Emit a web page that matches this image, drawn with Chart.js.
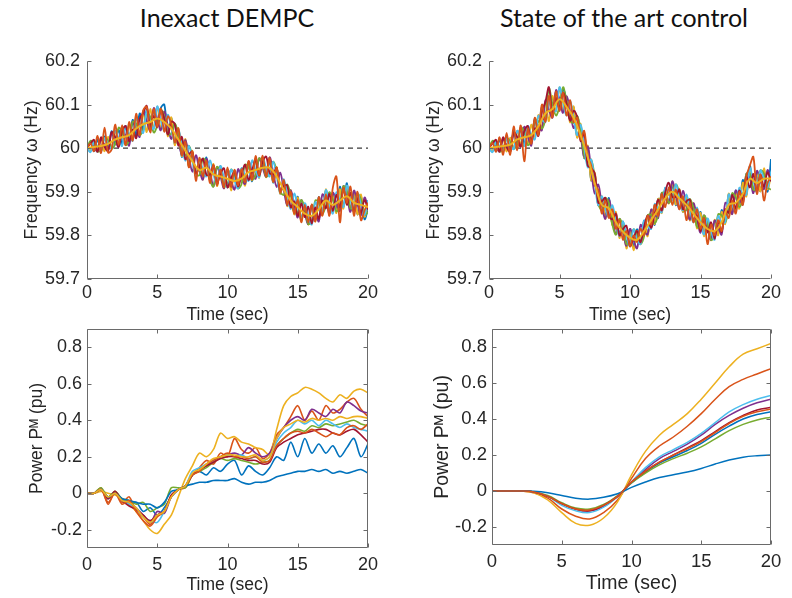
<!DOCTYPE html>
<html>
<head>
<meta charset="utf-8">
<script src="https://cdn.jsdelivr.net/npm/chart.js@4.4.0/dist/chart.umd.min.js"></script>
<style>
  html, body { margin: 0; padding: 0; background: #fff; }
  #page { position: relative; width: 792px; height: 598px; overflow: hidden; }
  canvas { position: absolute; }
  .title {
    position: absolute; top: 2px; line-height: 30px;
    font-family: Lato, "Open Sans", sans-serif; font-size: 25px; color: #111;
    white-space: nowrap; transform: translateX(-50%);
  }
</style>
</head>
<body>
<div id="page">
  <div class="title" style="left:227px">Inexact DEMPC</div>
  <div class="title" style="left:624px">State of the art control</div>
  <canvas id="freqDempc" width="396" height="286" style="left:0;top:40px"></canvas>
  <canvas id="freqSota" width="392" height="286" style="left:400px;top:40px"></canvas>
  <canvas id="powerDempc" width="396" height="280" style="left:0;top:318px"></canvas>
  <canvas id="powerSota" width="392" height="280" style="left:400px;top:318px"></canvas>
</div>
<script>
// ---- Time bases ----
const timeQuarter = [0,0.25,0.5,0.75,1,1.25,1.5,1.75,2,2.25,2.5,2.75,3,3.25,3.5,3.75,4,4.25,4.5,4.75,
  5,5.25,5.5,5.75,6,6.25,6.5,6.75,7,7.25,7.5,7.75,8,8.25,8.5,8.75,9,9.25,9.5,9.75,
  10,10.25,10.5,10.75,11,11.25,11.5,11.75,12,12.25,12.5,12.75,13,13.25,13.5,13.75,14,14.25,14.5,14.75,
  15,15.25,15.5,15.75,16,16.25,16.5,16.75,17,17.25,17.5,17.75,18,18.25,18.5,18.75,19,19.25,19.5,19.75,20];
const timeHalf = [0,0.5,1,1.5,2,2.5,3,3.5,4,4.5,5,5.5,6,6.5,7,7.5,8,8.5,9,9.5,
  10,10.5,11,11.5,12,12.5,13,13.5,14,14.5,15,15.5,16,16.5,17,17.5,18,18.5,19,19.5,20];
const timeWhole = [0,1,2,3,4,5,6,7,8,9,10,11,12,13,14,15,16,17,18,19,20];

// ---- Ticks ----
const timeTicks = [0, 5, 10, 15, 20];
const freqTicks = [59.7, 59.8, 59.9, 60, 60.1, 60.2];
const freqTickLabels = ['59.7', '59.8', '59.9', '60', '60.1', '60.2'];
const powerTicks = [-0.2, 0, 0.2, 0.4, 0.6, 0.8];
const powerTickLabels = ['-0.2', '0', '0.2', '0.4', '0.6', '0.8'];
const nominalFreq = 60;

// ---- Inexact DEMPC: frequency (Hz), every 0.25 s ----
const dempcFreq1 = [60.000,60.013,59.993,60.020,59.993,60.027,60.002,60.039,60.008,60.043,
  60.009,60.051,60.018,60.065,60.029,60.080,60.043,60.089,60.044,60.088,
  60.058,60.092,60.100,60.033,60.069,60.009,60.040,59.980,60.019,59.958,
  59.990,59.936,59.966,59.932,59.979,59.928,59.960,59.921,59.959,59.912,
  59.946,59.911,59.949,59.912,59.954,59.918,59.965,59.924,59.974,59.933,
  59.979,59.935,59.971,59.921,59.955,59.896,59.925,59.869,59.900,59.852,
  59.889,59.837,59.866,59.826,59.869,59.836,59.888,59.850,59.904,59.855,
  59.898,59.859,59.912,59.865,59.920,59.858,59.895,59.848,59.890,59.837,59.860];
const dempcFreq2 = [60.000,59.995,60.017,59.996,60.021,59.993,60.026,60.001,60.040,60.007,
  60.047,60.009,60.054,60.023,60.071,60.030,60.081,60.037,60.090,60.044,
  60.096,60.045,60.084,60.027,60.071,60.007,60.046,59.982,60.021,59.958,
  59.994,59.936,59.970,59.928,59.975,59.926,59.964,59.913,59.957,59.908,
  59.950,59.903,59.945,59.908,59.950,59.914,59.969,59.926,59.974,59.931,
  59.975,59.933,59.979,59.923,59.957,59.896,59.927,59.867,59.904,59.848,
  59.887,59.833,59.872,59.824,59.871,59.832,59.884,59.846,59.906,59.851,
  59.896,59.851,59.906,59.861,59.914,59.858,59.901,59.848,59.894,59.843,59.871];
const dempcFreq3 = [60.000,60.013,60.003,59.992,60.021,60.007,59.994,60.035,60.020,60.003,
  60.049,60.027,60.006,60.061,60.045,60.026,60.085,60.063,60.040,60.092,
  60.068,60.041,60.084,60.053,60.021,60.057,60.020,59.984,60.019,59.982,
  59.946,59.984,59.950,59.928,59.975,59.948,59.912,59.957,59.935,59.908,
  59.950,59.927,59.905,59.952,59.930,59.918,59.969,59.948,59.930,59.977,
  59.955,59.935,59.979,59.945,59.911,59.944,59.905,59.869,59.904,59.872,
  59.841,59.881,59.850,59.826,59.869,59.852,59.832,59.894,59.880,59.851,
  59.898,59.875,59.856,59.913,59.890,59.854,59.903,59.872,59.846,59.887,59.865];
const dempcFreq4 = [60.000,60.017,60.011,59.992,59.997,60.023,60.018,59.999,60.010,60.047,
  60.037,60.007,60.018,60.061,60.057,60.030,60.043,60.081,60.072,60.036,
  60.052,60.089,60.072,60.033,60.033,60.057,60.032,59.988,59.983,60.006,
  59.982,59.940,59.938,59.976,59.967,59.928,59.912,59.957,59.947,59.912,
  59.918,59.951,59.937,59.908,59.918,59.962,59.957,59.928,59.938,59.977,
  59.967,59.935,59.943,59.969,59.947,59.900,59.893,59.917,59.892,59.852,
  59.853,59.881,59.862,59.826,59.833,59.880,59.876,59.850,59.868,59.899,
  59.882,59.855,59.868,59.913,59.902,59.862,59.863,59.896,59.882,59.847,59.853];
const dempcFreq5 = [60.000,59.991,60.015,60.004,59.993,60.023,60.010,59.999,60.040,60.023,
  60.005,60.051,60.030,60.017,60.069,60.050,60.035,60.085,60.060,60.044,
  60.096,60.065,60.040,60.077,60.045,60.013,60.044,60.008,59.971,60.006,
  59.970,59.936,59.970,59.952,59.935,59.972,59.940,59.917,59.959,59.932,
  59.910,59.951,59.925,59.908,59.954,59.938,59.925,59.972,59.950,59.933,
  59.979,59.955,59.935,59.969,59.935,59.900,59.929,59.893,59.860,59.896,
  59.865,59.837,59.874,59.846,59.825,59.876,59.860,59.850,59.904,59.875,
  59.850,59.899,59.880,59.865,59.914,59.882,59.855,59.896,59.870,59.847,59.881];
const dempcFreq6 = [60.000,60.011,60.019,59.992,60.025,60.003,59.994,60.037,60.026,60.003,
  60.039,60.051,60.016,60.043,60.023,60.068,60.081,60.097,60.050,60.074,
  60.048,60.087,60.068,60.031,60.061,60.055,60.006,60.026,59.975,59.986,
  59.992,59.942,59.958,59.976,59.939,59.940,59.960,59.919,59.941,59.954,
  59.910,59.931,59.945,59.912,59.940,59.962,59.927,59.950,59.972,59.937,
  59.969,59.981,59.943,59.941,59.955,59.902,59.913,59.915,59.864,59.878,
  59.845,59.873,59.842,59.866,59.827,59.864,59.838,59.880,59.862,59.895,
  59.856,59.893,59.864,59.907,59.870,59.898,59.853,59.886,59.852,59.881,59.859];
const dempcFreq7 = [60.000,60.011,59.993,60.028,59.989,60.047,59.990,59.997,60.054,60.007,
  60.053,60.007,60.060,60.017,60.079,60.030,60.087,60.095,60.036,60.090,
  60.048,60.091,60.038,60.073,60.055,60.013,60.046,59.984,60.015,59.956,
  59.992,59.925,59.978,59.936,59.971,59.920,59.962,59.915,59.951,59.910,
  59.956,59.911,59.951,59.914,59.952,59.922,59.971,59.928,59.982,59.937,
  59.983,59.935,59.977,59.923,59.955,59.898,59.927,59.871,59.900,59.850,
  59.881,59.830,59.870,59.830,59.871,59.832,59.888,59.845,59.894,59.845,
  59.910,59.935,59.830,59.909,59.874,59.912,59.845,59.900,59.835,59.857,59.875];
// smooth (yellow) trace, every 0.5 s
const dempcFreqMean = [60.000,60.003,60.005,60.010,60.020,60.025,60.030,60.045,60.055,60.060,
  60.068,60.060,60.045,60.020,59.995,59.970,59.950,59.955,59.940,59.935,
  59.930,59.925,59.930,59.945,59.950,59.955,59.955,59.935,59.905,59.880,
  59.865,59.850,59.845,59.860,59.880,59.870,59.880,59.890,59.875,59.870,59.865];

// ---- State of the art: frequency (Hz), every 0.25 s ----
const sotaFreq1 = [60.000,60.013,59.993,60.020,59.993,60.026,60.000,60.038,60.008,60.044,
  60.009,60.051,60.018,60.068,60.034,60.095,60.068,60.114,60.074,60.129,
  60.102,60.135,60.110,60.065,60.094,60.026,60.050,59.977,60.004,59.926,
  59.940,59.869,59.886,59.842,59.886,59.825,59.850,59.802,59.832,59.780,
  59.811,59.774,59.814,59.784,59.834,59.802,59.855,59.824,59.884,59.853,
  59.909,59.875,59.916,59.869,59.905,59.854,59.890,59.836,59.870,59.820,
  59.854,59.802,59.831,59.790,59.834,59.804,59.858,59.830,59.894,59.853,
  59.903,59.869,59.927,59.893,59.960,59.901,59.940,59.901,59.950,59.900,59.975];
const sotaFreq2 = [60.000,59.995,60.017,59.996,60.021,59.992,60.024,60.000,60.040,60.008,
  60.047,60.009,60.054,60.026,60.076,60.045,60.106,60.062,60.120,60.085,
  60.140,60.085,60.119,60.059,60.096,60.024,60.056,59.979,60.006,59.926,
  59.944,59.869,59.890,59.838,59.882,59.823,59.854,59.794,59.830,59.770,
  59.815,59.766,59.810,59.780,59.830,59.798,59.859,59.826,59.884,59.851,
  59.905,59.873,59.924,59.871,59.907,59.854,59.892,59.834,59.874,59.816,
  59.852,59.798,59.837,59.788,59.836,59.800,59.854,59.826,59.896,59.849,
  59.901,59.861,59.921,59.889,59.954,59.901,59.946,59.901,59.954,59.906,59.936];
const sotaFreq3 = [60.000,60.013,60.003,59.992,60.021,60.006,59.992,60.034,60.020,60.004,
  60.049,60.027,60.006,60.064,60.050,60.041,60.110,60.088,60.070,60.133,
  60.112,60.081,60.119,60.085,60.046,60.074,60.030,59.981,60.004,59.950,
  59.896,59.917,59.870,59.838,59.882,59.845,59.802,59.838,59.808,59.776,
  59.815,59.790,59.770,59.824,59.810,59.802,59.859,59.848,59.840,59.897,
  59.885,59.875,59.924,59.893,59.861,59.902,59.870,59.836,59.874,59.840,
  59.806,59.846,59.815,59.790,59.834,59.820,59.802,59.874,59.870,59.849,
  59.903,59.885,59.871,59.941,59.930,59.897,59.948,59.925,59.906,59.950,59.930];
const sotaFreq4 = [60.000,60.017,60.011,59.992,59.997,60.022,60.016,59.998,60.010,60.048,
  60.037,60.007,60.018,60.064,60.062,60.045,60.068,60.137,60.102,60.075,
  60.096,60.140,60.107,60.065,60.058,60.074,60.042,59.985,59.968,59.974,
  59.932,59.873,59.858,59.886,59.874,59.825,59.802,59.838,59.820,59.780,
  59.783,59.814,59.802,59.780,59.798,59.846,59.847,59.828,59.848,59.897,
  59.897,59.875,59.888,59.917,59.897,59.858,59.858,59.884,59.862,59.820,
  59.818,59.846,59.827,59.790,59.798,59.848,59.846,59.830,59.858,59.897,
  59.887,59.865,59.883,59.941,59.942,59.905,59.908,59.949,59.942,59.910,59.905];
const sotaFreq5 = [60.000,59.991,60.015,60.004,59.993,60.022,60.008,59.998,60.040,60.024,
  60.005,60.051,60.030,60.020,60.074,60.065,60.060,60.110,60.090,60.085,
  60.140,60.105,60.075,60.109,60.070,60.030,60.054,60.005,59.956,59.974,
  59.920,59.869,59.890,59.862,59.842,59.869,59.830,59.798,59.832,59.800,
  59.775,59.814,59.790,59.780,59.834,59.822,59.815,59.872,59.860,59.853,
  59.909,59.895,59.880,59.917,59.885,59.858,59.894,59.860,59.830,59.864,
  59.830,59.802,59.839,59.810,59.790,59.844,59.830,59.830,59.894,59.873,
  59.855,59.909,59.895,59.893,59.954,59.925,59.900,59.949,59.930,59.910,59.946];
const sotaFreq6 = [60.000,60.011,60.019,59.992,60.025,60.002,59.992,60.036,60.026,60.004,
  60.039,60.051,60.016,60.046,60.028,60.083,60.106,60.140,60.080,60.115,
  60.092,60.127,60.103,60.063,60.086,60.072,60.016,60.035,59.960,59.954,
  59.942,59.875,59.878,59.886,59.846,59.837,59.850,59.800,59.814,59.822,
  59.775,59.794,59.810,59.784,59.820,59.846,59.817,59.850,59.882,59.857,
  59.899,59.921,59.888,59.889,59.905,59.860,59.878,59.882,59.834,59.846,
  59.810,59.838,59.807,59.830,59.792,59.832,59.808,59.860,59.852,59.893,
  59.861,59.903,59.879,59.935,59.910,59.941,59.898,59.939,59.912,59.944,59.924];
const sotaFreq7 = [60.000,60.012,59.992,60.025,59.985,60.035,59.985,60.050,59.995,60.052,
  59.970,60.045,60.010,60.070,60.030,60.100,60.060,60.120,60.070,60.130,
  60.085,60.128,60.075,60.110,60.060,60.070,60.020,60.040,59.980,59.960,
  59.915,59.905,59.850,59.880,59.840,59.860,59.815,59.835,59.790,59.810,
  59.775,59.800,59.785,59.815,59.800,59.845,59.825,59.870,59.845,59.895,
  59.865,59.910,59.870,59.905,59.860,59.890,59.835,59.875,59.830,59.860,
  59.815,59.840,59.780,59.825,59.800,59.835,59.810,59.855,59.840,59.880,
  59.850,59.900,59.870,59.935,59.960,59.980,59.895,59.940,59.880,59.920,59.935];
const sotaFreqMean = [60.000,60.003,60.005,60.008,60.020,60.025,60.030,60.050,60.080,60.090,
  60.112,60.095,60.070,60.030,59.980,59.920,59.870,59.862,59.830,59.808,
  59.795,59.790,59.810,59.835,59.860,59.885,59.900,59.885,59.870,59.850,
  59.830,59.815,59.810,59.830,59.870,59.875,59.895,59.930,59.920,59.930,59.930];

// ---- Inexact DEMPC: mechanical power (pu), every 0.5 s ----
const dempcPower1 = [0,0,0.02,-0.02,0,-0.04,-0.06,-0.05,-0.1,-0.08,-0.12,-0.08,-0.02,0.02,0.04,0.1,0.12,0.1,0.14,0.12,
  0.16,0.18,0.1,0.15,0.12,0.1,0.14,0.2,0.18,0.28,0.2,0.3,0.22,0.27,0.22,0.26,0.2,0.25,0.3,0.2,0.27];
const dempcPower2 = [0,0,0.03,-0.06,0.01,-0.05,-0.02,-0.1,-0.13,-0.17,-0.12,-0.1,-0.01,0.02,0.03,0.1,0.14,0.18,0.16,0.22,
  0.2,0.3,0.24,0.22,0.25,0.19,0.22,0.32,0.36,0.42,0.48,0.4,0.45,0.4,0.48,0.44,0.46,0.5,0.52,0.46,0.42];
const dempcPower3 = [0,0,0.01,0,-0.01,-0.03,-0.06,-0.1,-0.15,-0.2,-0.22,-0.17,-0.12,-0.02,0.08,0.15,0.22,0.2,0.24,0.33,
  0.3,0.31,0.28,0.27,0.25,0.24,0.21,0.35,0.48,0.53,0.55,0.58,0.57,0.55,0.52,0.5,0.54,0.52,0.56,0.57,0.55];
const dempcPower4 = [0,0,0.02,-0.03,0.01,-0.04,-0.05,-0.08,-0.12,-0.16,-0.1,-0.11,-0.02,0.02,0.04,0.1,0.13,0.15,0.18,0.2,
  0.21,0.22,0.21,0.25,0.22,0.2,0.22,0.3,0.36,0.4,0.42,0.4,0.46,0.44,0.42,0.46,0.44,0.5,0.48,0.45,0.44];
const dempcPower5 = [0,0,0.03,-0.02,0.01,-0.03,-0.04,-0.06,-0.05,-0.1,-0.08,-0.06,0.03,0.03,0.03,0.1,0.12,0.14,0.17,0.19,
  0.18,0.19,0.18,0.17,0.16,0.17,0.18,0.26,0.3,0.33,0.35,0.34,0.37,0.36,0.38,0.37,0.38,0.39,0.4,0.38,0.37];
const dempcPower6 = [0,0,0.02,-0.03,0,-0.04,-0.06,-0.08,-0.13,-0.15,-0.16,-0.1,-0.02,0.02,0.04,0.12,0.14,0.16,0.18,0.2,
  0.21,0.2,0.21,0.19,0.2,0.18,0.2,0.28,0.33,0.36,0.4,0.38,0.4,0.37,0.4,0.38,0.36,0.38,0.36,0.35,0.34];
const dempcPower7 = [0,0,0.02,-0.03,0.01,-0.04,-0.07,-0.09,-0.12,-0.15,-0.12,-0.1,-0.01,0.02,0.04,0.1,0.13,0.15,0.17,0.19,
  0.2,0.2,0.19,0.18,0.18,0.16,0.17,0.25,0.28,0.3,0.32,0.33,0.34,0.35,0.35,0.33,0.32,0.34,0.35,0.32,0.28];
const dempcPower8 = [0,0,0.02,-0.02,0,-0.03,-0.04,-0.05,-0.06,-0.06,-0.08,-0.05,0.01,0.02,0.04,0.05,0.06,0.06,0.07,0.07,
  0.07,0.08,0.06,0.05,0.06,0.06,0.07,0.09,0.1,0.11,0.12,0.12,0.13,0.12,0.13,0.11,0.12,0.11,0.12,0.13,0.11];
const dempcPower9 = [0,0,0.02,-0.05,0,-0.06,-0.04,-0.1,-0.15,-0.18,-0.13,-0.1,-0.02,0.02,0.04,0.1,0.12,0.16,0.18,0.2,
  0.22,0.2,0.2,0.19,0.2,0.17,0.18,0.26,0.3,0.33,0.34,0.33,0.35,0.33,0.31,0.33,0.32,0.36,0.37,0.35,0.38];
const dempcPower10 = [0,0,0.02,-0.02,0,-0.04,-0.05,-0.08,-0.13,-0.16,-0.12,-0.1,-0.02,0.02,0.04,0.11,0.13,0.16,0.19,0.2,
  0.21,0.21,0.2,0.2,0.21,0.18,0.2,0.3,0.36,0.38,0.4,0.39,0.41,0.4,0.41,0.4,0.42,0.41,0.42,0.42,0.41];

// ---- State of the art: mechanical power (pu), every 1 s ----
const sotaPower1 = [0,0,0,-0.005,-0.03,-0.07,-0.1,-0.105,-0.08,-0.03,0.045,0.105,0.155,0.19,0.225,0.265,0.315,0.36,0.4,0.425,0.44];
const sotaPower2 = [0,0,0,-0.01,-0.04,-0.1,-0.14,-0.155,-0.12,-0.05,0.07,0.18,0.25,0.3,0.36,0.43,0.51,0.58,0.62,0.65,0.68];
const sotaPower3 = [0,0,0,-0.01,-0.05,-0.12,-0.18,-0.19,-0.15,-0.06,0.09,0.22,0.31,0.37,0.43,0.51,0.6,0.69,0.76,0.79,0.82];
const sotaPower4 = [0,0,0,-0.005,-0.03,-0.07,-0.1,-0.11,-0.085,-0.03,0.05,0.12,0.18,0.22,0.26,0.31,0.37,0.42,0.46,0.49,0.51];
const sotaPower5 = [0,0,0,-0.005,-0.025,-0.065,-0.095,-0.1,-0.075,-0.025,0.045,0.1,0.145,0.18,0.21,0.245,0.29,0.335,0.37,0.395,0.41];
const sotaPower6 = [0,0,0,-0.005,-0.03,-0.08,-0.11,-0.12,-0.09,-0.03,0.05,0.13,0.19,0.23,0.27,0.32,0.38,0.44,0.48,0.51,0.53];
const sotaPower7 = [0,0,0,-0.005,-0.03,-0.07,-0.1,-0.11,-0.08,-0.03,0.05,0.11,0.16,0.2,0.24,0.28,0.33,0.38,0.42,0.45,0.465];
const sotaPower8 = [0,0,0,-0.002,-0.01,-0.025,-0.04,-0.045,-0.035,-0.015,0.02,0.05,0.075,0.09,0.105,0.125,0.15,0.172,0.188,0.196,0.2];
const sotaPower9 = [0,0,0,-0.005,-0.03,-0.07,-0.1,-0.105,-0.08,-0.03,0.05,0.11,0.16,0.2,0.235,0.275,0.325,0.375,0.415,0.44,0.455];

// ---- Style ----
const FONT = '"Liberation Sans", Arial, Helvetica, sans-serif';
const TEXT = '#262626';
const AXIS = '#6a6a6a';
const mBlue = '#0072BD', mOrange = '#D95319', mYellow = '#EDB120', mPurple = '#7E2F8E',
      mGreen = '#77AC30', mCyan = '#4DBEEE', mRed = '#A2142F';

// inward ticks and axis lines (MATLAB look)
const matlabAxes = {
  id: 'matlabAxes',
  afterDatasetsDraw(chart, args, opts) {
    const { ctx, chartArea: a, scales: { x, y } } = chart;
    const L = Math.round(a.left) + 0.5, R = Math.round(a.right) - 0.5;
    const T = Math.round(a.top) + 0.5, B = Math.round(a.bottom) - 0.5;
    const len = 4;
    ctx.save();
    ctx.strokeStyle = AXIS;
    ctx.lineWidth = 1;
    ctx.beginPath();
    ctx.moveTo(L, T); ctx.lineTo(L, B); ctx.lineTo(R, B);
    if (opts.box) { ctx.lineTo(R, T); ctx.closePath(); }
    x.ticks.forEach(t => {
      const px = Math.round(x.getPixelForValue(t.value)) + 0.5;
      ctx.moveTo(px, B); ctx.lineTo(px, B - len);
      if (opts.box) { ctx.moveTo(px, T); ctx.lineTo(px, T + len); }
    });
    y.ticks.forEach(t => {
      const py = Math.round(y.getPixelForValue(t.value)) + 0.5;
      ctx.moveTo(L, py); ctx.lineTo(L + len, py);
      if (opts.box) { ctx.moveTo(R, py); ctx.lineTo(R - len, py); }
    });
    ctx.stroke();
    ctx.restore();
  }
};

function line(xs, ys, color, width, tension) {
  return {
    data: xs.map((x, i) => ({ x, y: ys[i] })),
    borderColor: color, borderWidth: width,
    pointRadius: 0, tension: tension, fill: false
  };
}

function xAxis(cfg) {
  return {
    type: 'linear', min: timeTicks[0], max: timeTicks[timeTicks.length - 1],
    afterBuildTicks: s => { s.ticks = timeTicks.map(v => ({ value: v })); },
    afterFit: s => { s.height = cfg.height; s.paddingLeft = 0; s.paddingRight = 0; },
    grid: { display: false, drawTicks: false },
    border: { display: false },
    ticks: { color: TEXT, font: { family: FONT, size: cfg.tickSize }, padding: cfg.tickPad,
             maxRotation: 0, autoSkip: false, callback: v => String(v) },
    title: { display: true, text: 'Time (sec)', color: TEXT,
             font: { family: FONT, size: cfg.titleSize }, padding: { top: 0, bottom: cfg.titlePad } }
  };
}

function yAxis(cfg) {
  return {
    type: 'linear', min: cfg.min, max: cfg.max,
    afterBuildTicks: s => { s.ticks = cfg.ticks.map(v => ({ value: v })); },
    afterFit: s => { s.width = cfg.width; s.paddingTop = 0; s.paddingBottom = 0; },
    grid: { display: false, drawTicks: false },
    border: { display: false },
    ticks: { color: TEXT, font: { family: FONT, size: cfg.tickSize }, padding: cfg.tickPad,
             autoSkip: false, callback: (v, i) => cfg.labels[i] },
    title: { display: true, text: cfg.title, color: TEXT,
             font: { family: FONT, size: cfg.titleSize }, padding: { top: cfg.titlePad, bottom: 0 } }
  };
}

function draw(id, datasets, padding, xCfg, yCfg, box) {
  // later series on top, like MATLAB's plot order
  datasets.forEach((d, k) => { d.order = -k; });
  new Chart(document.getElementById(id), {
    type: 'line',
    data: { datasets },
    options: {
      responsive: false, animation: false,
      layout: { padding },
      plugins: { legend: { display: false }, tooltip: { enabled: false }, matlabAxes: { box } },
      scales: { x: xAxis(xCfg), y: yAxis(yCfg) }
    },
    plugins: [matlabAxes]
  });
}

function refLine() {
  const d = line([timeTicks[0], timeTicks[timeTicks.length - 1]], [nominalFreq, nominalFreq], '#3a3a3a', 1.3, 0);
  d.borderDash = [5, 4];
  return d;
}

const NW = 1.8; // noisy line width

draw('freqDempc', [
  refLine(),
  line(timeQuarter, dempcFreq1, mBlue, NW, 0.35),
  line(timeQuarter, dempcFreq2, mYellow, NW, 0.35),
  line(timeQuarter, dempcFreq3, mPurple, NW, 0.35),
  line(timeQuarter, dempcFreq4, mGreen, NW, 0.35),
  line(timeQuarter, dempcFreq5, mCyan, NW, 0.35),
  line(timeQuarter, dempcFreq6, mRed, NW, 0.35),
  line(timeQuarter, dempcFreq7, mOrange, NW, 0.35),
  line(timeHalf, dempcFreqMean, mYellow, 2, 0.4)
], { left: 0, top: 21, right: 28, bottom: 0 },
  { height: 47, tickSize: 18, tickPad: 3, titleSize: 17.5, titlePad: 0 },
  { min: 59.7, max: 60.2, ticks: freqTicks, labels: freqTickLabels, width: 87, tickSize: 18, tickPad: 7,
    title: 'Frequency ω (Hz)', titleSize: 17.5, titlePad: 22 }, false);

draw('freqSota', [
  refLine(),
  line(timeQuarter, sotaFreq1, mBlue, NW, 0.35),
  line(timeQuarter, sotaFreq2, mYellow, NW, 0.35),
  line(timeQuarter, sotaFreq3, mPurple, NW, 0.35),
  line(timeQuarter, sotaFreq4, mGreen, NW, 0.35),
  line(timeQuarter, sotaFreq5, mCyan, NW, 0.35),
  line(timeQuarter, sotaFreq6, mRed, NW, 0.35),
  line(timeQuarter, sotaFreq7, mOrange, NW, 0.35),
  line(timeHalf, sotaFreqMean, mYellow, 2, 0.4)
], { left: 0, top: 21, right: 21, bottom: 0 },
  { height: 47, tickSize: 18, tickPad: 3, titleSize: 17.5, titlePad: 0 },
  { min: 59.7, max: 60.2, ticks: freqTicks, labels: freqTickLabels, width: 89, tickSize: 18, tickPad: 7,
    title: 'Frequency ω (Hz)', titleSize: 17.5, titlePad: 24 }, false);

draw('powerDempc', [
  line(timeHalf, dempcPower1, mBlue, 1.6, 0.3),
  line(timeHalf, dempcPower2, mOrange, 1.6, 0.3),
  line(timeHalf, dempcPower3, mYellow, 1.6, 0.3),
  line(timeHalf, dempcPower4, mPurple, 1.6, 0.3),
  line(timeHalf, dempcPower5, mGreen, 1.6, 0.3),
  line(timeHalf, dempcPower6, mCyan, 1.6, 0.3),
  line(timeHalf, dempcPower7, mRed, 1.6, 0.3),
  line(timeHalf, dempcPower8, mBlue, 1.6, 0.3),
  line(timeHalf, dempcPower9, mOrange, 1.6, 0.3),
  line(timeHalf, dempcPower10, mYellow, 1.6, 0.3)
], { left: 0, top: 11, right: 28, bottom: 0 },
  { height: 50, tickSize: 18, tickPad: 6, titleSize: 17.5, titlePad: 2 },
  { min: -0.3, max: 0.9, ticks: powerTicks, labels: powerTickLabels, width: 87, tickSize: 18, tickPad: 5,
    title: 'Power Pᴹ (pu)', titleSize: 17.5, titlePad: 27 }, true);

draw('powerSota', [
  line(timeWhole, sotaPower1, mBlue, 1.5, 0.4),
  line(timeWhole, sotaPower2, mOrange, 1.5, 0.4),
  line(timeWhole, sotaPower3, mYellow, 1.5, 0.4),
  line(timeWhole, sotaPower4, mPurple, 1.5, 0.4),
  line(timeWhole, sotaPower5, mGreen, 1.5, 0.4),
  line(timeWhole, sotaPower6, mCyan, 1.5, 0.4),
  line(timeWhole, sotaPower7, mRed, 1.5, 0.4),
  line(timeWhole, sotaPower8, mBlue, 1.5, 0.4),
  line(timeWhole, sotaPower9, mOrange, 1.5, 0.4)
], { left: 0, top: 11, right: 21, bottom: 0 },
  { height: 53, tickSize: 18.5, tickPad: 6, titleSize: 19.5, titlePad: 3 },
  { min: -0.3, max: 0.9, ticks: powerTicks, labels: powerTickLabels, width: 92, tickSize: 18.5, tickPad: 5,
    title: 'Power Pᴹ (pu)', titleSize: 19.5, titlePad: 31 }, true);
</script>
</body>
</html>
